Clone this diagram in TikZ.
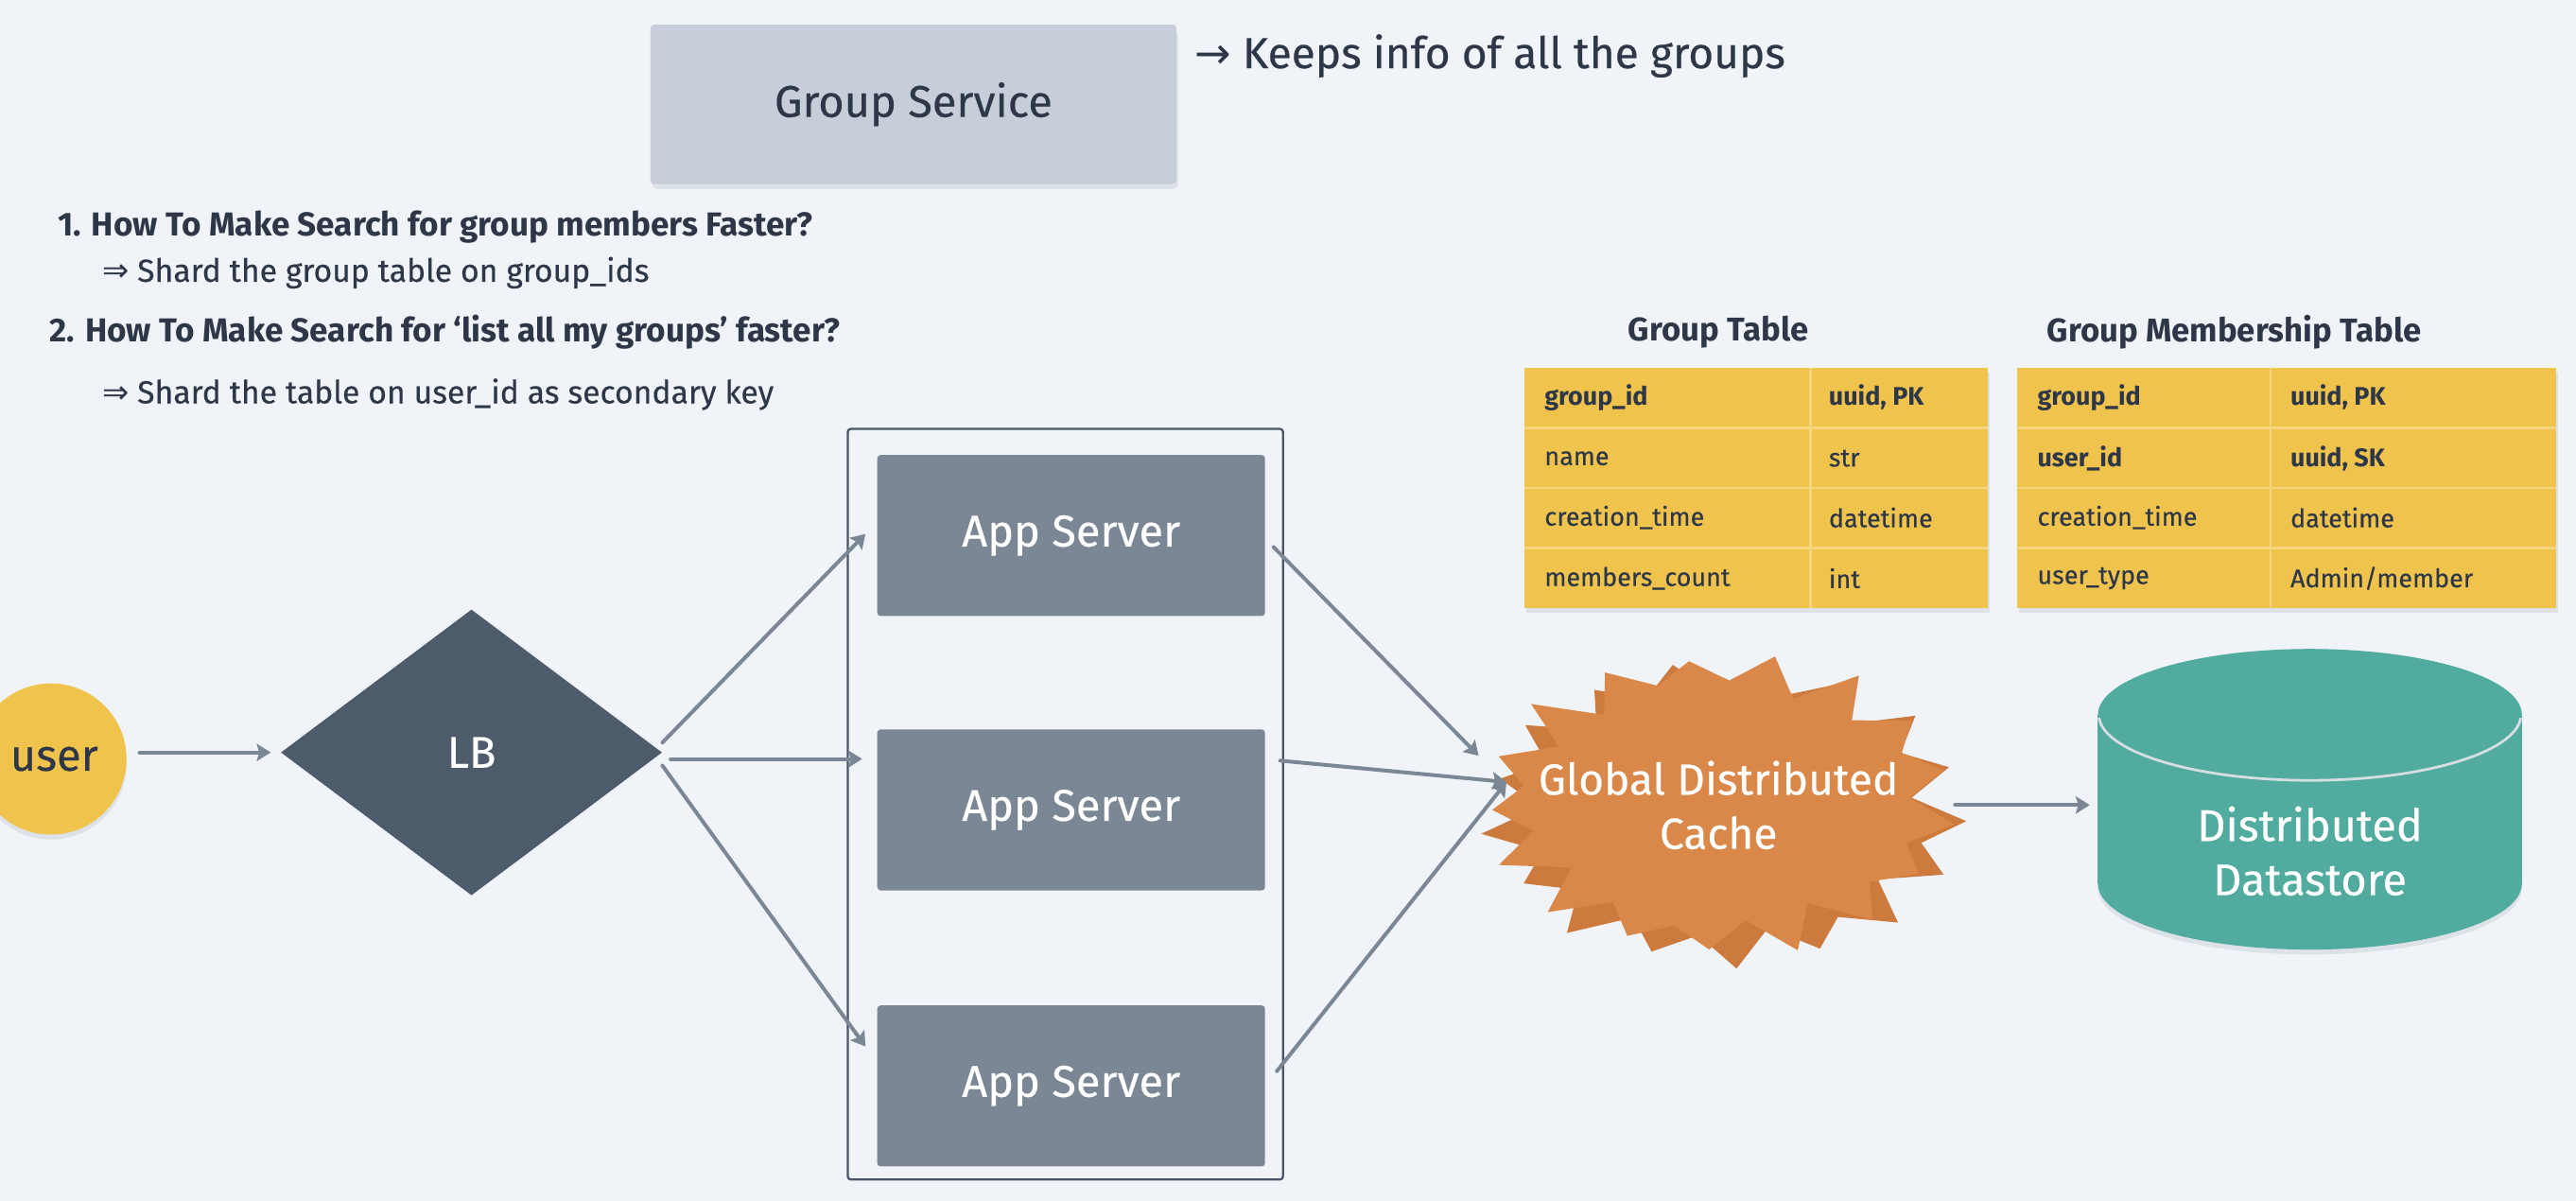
\documentclass[tikz,border=0pt]{standalone}
\usepackage{fontspec}
\setmainfont{Fira Sans}[UprightFeatures={FakeBold=0.35}]
\newfontfamily\symfont{DejaVu Sans}
\usetikzlibrary{shapes.geometric, arrows.meta, calc}

\definecolor{bg}{HTML}{F0F4F8}
\definecolor{ink}{HTML}{2D3748}
\definecolor{gsfill}{HTML}{C5CED9}
\definecolor{appfill}{HTML}{7B8794}
\definecolor{lbfill}{HTML}{4E5B6A}
\definecolor{arrowc}{HTML}{7B8794}
\definecolor{contc}{HTML}{4A5568}
\definecolor{yel}{HTML}{F0C44C}
\definecolor{yelline}{HTML}{F6D57E}
\definecolor{orangeA}{HTML}{DA8849}
\definecolor{orangeB}{HTML}{CC7A3E}
\definecolor{teal}{HTML}{52AB9F}
\definecolor{tealline}{HTML}{D5DEE2}
\definecolor{shadowc}{HTML}{DCE2E8}

\tikzset{
  big/.style={font=\fontsize{27}{33}\selectfont},
  qtext/.style={font=\fontsize{20.2}{24}\selectfont\bfseries, text=ink, anchor=west, inner sep=0},
  atext/.style={font=\fontsize{19.4}{23}\selectfont, text=ink, anchor=west, inner sep=0},
  cell/.style={font=\fontsize{15.5}{19}\selectfont, text=ink, anchor=west, inner sep=0},
  bcell/.style={cell, font=\fontsize{15.5}{19}\selectfont\bfseries},
  ttitle/.style={font=\fontsize{20}{24}\selectfont\bfseries, text=ink, inner sep=0},
  appbox/.style={rectangle, fill=appfill, rounded corners=2, minimum width=236, minimum height=98, text=white, big},
  arr/.style={draw=arrowc, line width=2.3pt, line cap=round, -{Stealth[length=8.5pt,width=10.5pt,inset=1.5pt]}},
}

\begin{document}
\begin{tikzpicture}[x=1pt,y=-1pt]
\fill[bg] (0,0) rectangle (1568,731);
\useasboundingbox (0,0) rectangle (1568,731);

% Group service
\fill[shadowc, rounded corners=3] (397,18) rectangle (717,115);
\node[rectangle, fill=gsfill, rounded corners=2, minimum width=320, minimum height=97, text=ink, big] (gs) at (556,63.5) {\raisebox{-2pt}{Group Service}};
\node[anchor=west, inner sep=0, text=ink, font=\fontsize{26.5}{32}\selectfont] (keeps) at (727,34) {{\symfont →} Keeps info of all the groups};

% questions
\node[qtext] (q1) at (35,138) {1. How To Make Search for group members Faster?};
\node[atext] (a1) at (62,166) {{\symfont ⇒} Shard the group table on group\_ids};
\node[qtext] (q2) at (30,202) {2. How To Make Search for ‘list all my groups’ faster?};
\node[atext] (a2) at (62,240) {{\symfont ⇒} Shard the table on user\_id as secondary key};

% tables titles
\node[ttitle] (gtt) at (1046,202) {Group Table};
\node[ttitle] (mtt) at (1360,202) {Group Membership Table};

% group table
\fill[shadowc] (929,227) rectangle (1211,373);
\fill[yel] (928,224) rectangle (1210,370);
\foreach \yy in {260.5,297,333.5} \draw[yelline, line width=1.6pt] (928,\yy) -- (1210,\yy);
\draw[yelline, line width=1.6pt] (1102,224) -- (1102,370);
\node[bcell] (g11) at (940,242) {group\_id};
\node[bcell] (g12) at (1113,242) {uuid, PK};
\node[cell] (g21) at (940,279) {name};
\node[cell] (g22) at (1113,279) {str};
\node[cell] (g31) at (940,315) {creation\_time};
\node[cell] (g32) at (1113,315) {datetime};
\node[cell] (g41) at (940,352) {members\_count};
\node[cell] (g42) at (1113,352) {int};

% membership table
\fill[shadowc] (1229,227) rectangle (1557,373);
\fill[yel] (1228,224) rectangle (1556,370);
\foreach \yy in {260.5,297,333.5} \draw[yelline, line width=1.6pt] (1228,\yy) -- (1556,\yy);
\draw[yelline, line width=1.6pt] (1382,224) -- (1382,370);
\node[bcell] (m11) at (1240,242) {group\_id};
\node[bcell] (m12) at (1394,242) {uuid, PK};
\node[bcell] (m21) at (1240,279) {user\_id};
\node[bcell] (m22) at (1394,279) {uuid, SK};
\node[cell] (m31) at (1240,315) {creation\_time};
\node[cell] (m32) at (1394,315) {datetime};
\node[cell] (m41) at (1240,352) {user\_type};
\node[cell] (m42) at (1394,352) {Admin/member};

% user
\fill[shadowc] (31,465) circle[radius=46];
\node[circle, fill=yel, minimum size=92, inner sep=0] (user) at (31,462) {};
\node[text=ink, big, inner sep=0] (usertxt) at (33,462) {user};

% LB
\node[diamond, fill=lbfill, minimum width=232, minimum height=174, inner sep=0, text=white, big] (lb) at (287,458) {LB};

% container & app servers
\node[rectangle, draw=contc, line width=1.3pt, rounded corners=2, minimum width=265, minimum height=457, inner sep=0] (grp) at (648.5,489.5) {};
\node[appbox] (app1) at (652,326) {\raisebox{-2pt}{App Server}};
\node[appbox] (app2) at (652,493) {\raisebox{-2pt}{App Server}};
\node[appbox] (app3) at (652,661) {\raisebox{-2pt}{App Server}};

% cache starburst
\fill[orangeB] plot[samples at={0,...,33}, variable=\k]
  ({1051+146*(0.90+0.10*cos(\k*180)+0.035*sin(\k*97))*cos(\k*360/34+3)},
   {495+92*(0.90+0.10*cos(\k*180)+0.035*sin(\k*97))*sin(\k*360/34+3)}) -- cycle;
\fill[orangeA] plot[samples at={0,...,33}, variable=\k]
  ({1047+144*(0.90+0.10*cos(\k*180)+0.04*sin(\k*131))*cos(\k*360/34+8)},
   {489+91*(0.90+0.10*cos(\k*180)+0.04*sin(\k*131))*sin(\k*360/34+8)}) -- cycle;
\node[text=white, font=\fontsize{26.5}{33}\selectfont, align=center, inner sep=0] (cache) at (1046,490) {Global Distributed\\Cache};

% datastore cylinder
\fill[shadowc] (1406,541) ellipse[x radius=129, y radius=40];
\fill[teal] (1406,538) ellipse[x radius=129, y radius=40];
\fill[teal] (1277,435) rectangle (1535,538);
\fill[teal] (1406,435) ellipse[x radius=129, y radius=40];
\begin{scope}
  \clip (1270,437) rectangle (1540,480);
  \draw[tealline, line width=1.6pt] (1406,435) ellipse[x radius=128.5, y radius=40];
\end{scope}
\node[text=white, big, align=center, inner sep=0] (ds) at (1406,518) {Distributed\\Datastore};
\coordinate (dsin) at (1272,490);

% connectors
\draw[arr] (usertxt.east) ++(25,-4) coordinate (u0) -- ($(lb.west)+(-6,0)$);
\draw[arr] ($(lb.east)+(0,-6)$) -- ($(app1.west)+(-7,-1)$);
\draw[arr] ($(lb.east)+(5,4)$) -- ($(app2.west)+(-9,-31)$);
\draw[arr] ($(lb.east)+(0,8)$) -- ($(app3.west)+(-7,-24)$);
\draw[arr] ($(app1.east)+(5,7)$) -- ($(cache.center)+(-146,-30)$);
\draw[arr] ($(app2.east)+(9,-30)$) -- ($(cache.center)+(-129,-14)$);
\draw[arr] ($(app3.east)+(7,-9)$) -- ($(cache.center)+(-129,-14)$);
\draw[arr] ($(cache.center)+(144,0)$) -- (dsin);
\end{tikzpicture}
\end{document}
